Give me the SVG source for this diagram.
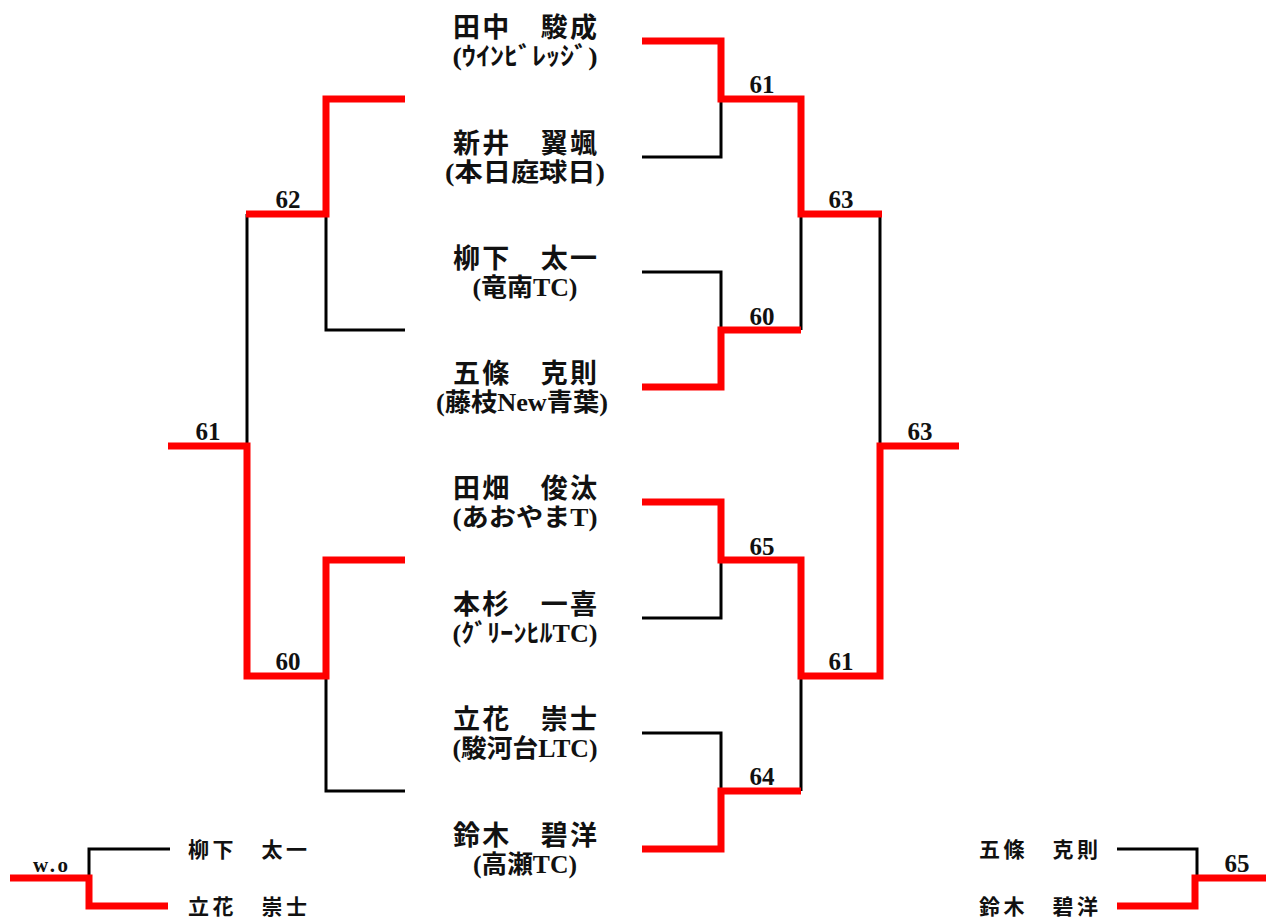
<svg xmlns="http://www.w3.org/2000/svg" width="1266" height="917" viewBox="0 0 1266 917">
<style>
.red{fill:none;stroke:#ff0000;stroke-width:7;stroke-linejoin:miter}
.blk{fill:none;stroke:#000;stroke-width:3;stroke-linejoin:miter}
.nm{font-family:"Liberation Serif","Noto Sans CJK JP",serif;font-weight:700;font-size:27px;fill:#111;text-anchor:middle}
.cl{font-family:"Liberation Serif","Noto Sans CJK JP",serif;font-weight:700;font-size:25px;fill:#111;text-anchor:middle}
.sm{font-family:"Liberation Serif","Noto Sans CJK JP",serif;font-weight:700;font-size:21px;fill:#111}
.sc{font-family:"Liberation Serif","Noto Sans CJK JP",serif;font-weight:700;font-size:25px;fill:#111;text-anchor:middle}
</style>
<rect width="1266" height="917" fill="#fff"/>
<g id="connectors">
<polyline class="blk" points="642,157 721,157 721,99"/>
<polyline class="blk" points="642,272 721,272 721,330"/>
<polyline class="blk" points="642,618 721,618 721,560"/>
<polyline class="blk" points="642,733 721,733 721,791"/>
<polyline class="blk" points="801,214 801,330"/>
<polyline class="blk" points="801,676 801,791"/>
<polyline class="blk" points="880,214 880,446"/>
<polyline class="blk" points="405,330 326,330 326,214"/>
<polyline class="blk" points="405,791 326,791 326,676"/>
<polyline class="blk" points="247,214 247,446"/>
<polyline class="blk" points="170,849 89,849 89,878"/>
<polyline class="blk" points="1117,849 1197,849 1197,878"/>
<polyline class="red" points="642,41 721,41 721,99 801,99 801,214 882,214"/>
<polyline class="red" points="642,387 721,387 721,330 801,330"/>
<polyline class="red" points="642,502 721,502 721,560 801,560 801,676 880,676 880,446 959,446"/>
<polyline class="red" points="642,849 721,849 721,791 801,791"/>
<polyline class="red" points="405,99 326,99 326,214 246,214"/>
<polyline class="red" points="405,560 326,560 326,676 247,676 247,446 168,446"/>
<polyline class="red" points="10,878 89,878 89,906 168,906"/>
<polyline class="red" points="1117,906 1195,906 1195,878 1266,878"/>
<text class="sc" x="762" y="93">61</text>
<text class="sc" x="762" y="325">60</text>
<text class="sc" x="841" y="208">63</text>
<text class="sc" x="920" y="440">63</text>
<text class="sc" x="762" y="555">65</text>
<text class="sc" x="762" y="785">64</text>
<text class="sc" x="841" y="670">61</text>
<text class="sc" x="288" y="208">62</text>
<text class="sc" x="208" y="440">61</text>
<text class="sc" x="288" y="670">60</text>
<text class="sc" x="1237" y="872">65</text>
<text x="33" y="872" font-family="Liberation Serif,serif" font-weight="700" font-size="21" textLength="35" lengthAdjust="spacing" fill="#111">w.o</text>
</g>
<g id="p1"><text class="nm" x="525" y="37" textLength="144" lengthAdjust="spacing">田中　駿成</text><text class="cl" x="525" y="65" textLength="145" lengthAdjust="spacingAndGlyphs">(ｳｲﾝﾋﾞﾚｯｼﾞ)</text></g>
<g id="p2"><text class="nm" x="525" y="153" textLength="144" lengthAdjust="spacing">新井　翼颯</text><text class="cl" x="525" y="181" textLength="160" lengthAdjust="spacingAndGlyphs">(本日庭球日)</text></g>
<g id="p3"><text class="nm" x="525" y="268" textLength="144" lengthAdjust="spacing">柳下　太一</text><text class="cl" x="525" y="296" textLength="105" lengthAdjust="spacingAndGlyphs">(竜南TC)</text></g>
<g id="p4"><text class="nm" x="525" y="383" textLength="144" lengthAdjust="spacing">五條　克則</text><text class="cl" x="522" y="411" textLength="172" lengthAdjust="spacingAndGlyphs">(藤枝New青葉)</text></g>
<g id="p5"><text class="nm" x="525" y="498" textLength="144" lengthAdjust="spacing">田畑　俊汰</text><text class="cl" x="525" y="526" textLength="145" lengthAdjust="spacingAndGlyphs">(あおやまT)</text></g>
<g id="p6"><text class="nm" x="525" y="614" textLength="144" lengthAdjust="spacing">本杉　一喜</text><text class="cl" x="525" y="642" textLength="145" lengthAdjust="spacingAndGlyphs">(ｸﾞﾘｰﾝﾋﾙTC)</text></g>
<g id="p7"><text class="nm" x="525" y="729" textLength="144" lengthAdjust="spacing">立花　崇士</text><text class="cl" x="525" y="757" textLength="145" lengthAdjust="spacingAndGlyphs">(駿河台LTC)</text></g>
<g id="p8"><text class="nm" x="525" y="845" textLength="144" lengthAdjust="spacing">鈴木　碧洋</text><text class="cl" x="525" y="873" textLength="104" lengthAdjust="spacingAndGlyphs">(高瀬TC)</text></g>
<g id="c1"><text class="sm" x="188" y="857" textLength="119" lengthAdjust="spacing">柳下　太一</text></g>
<g id="c2"><text class="sm" x="188" y="914" textLength="119" lengthAdjust="spacing">立花　崇士</text></g>
<g id="c3"><text class="sm" x="979" y="857" textLength="119" lengthAdjust="spacing">五條　克則</text></g>
<g id="c4"><text class="sm" x="979" y="914" textLength="119" lengthAdjust="spacing">鈴木　碧洋</text></g>
</svg>
